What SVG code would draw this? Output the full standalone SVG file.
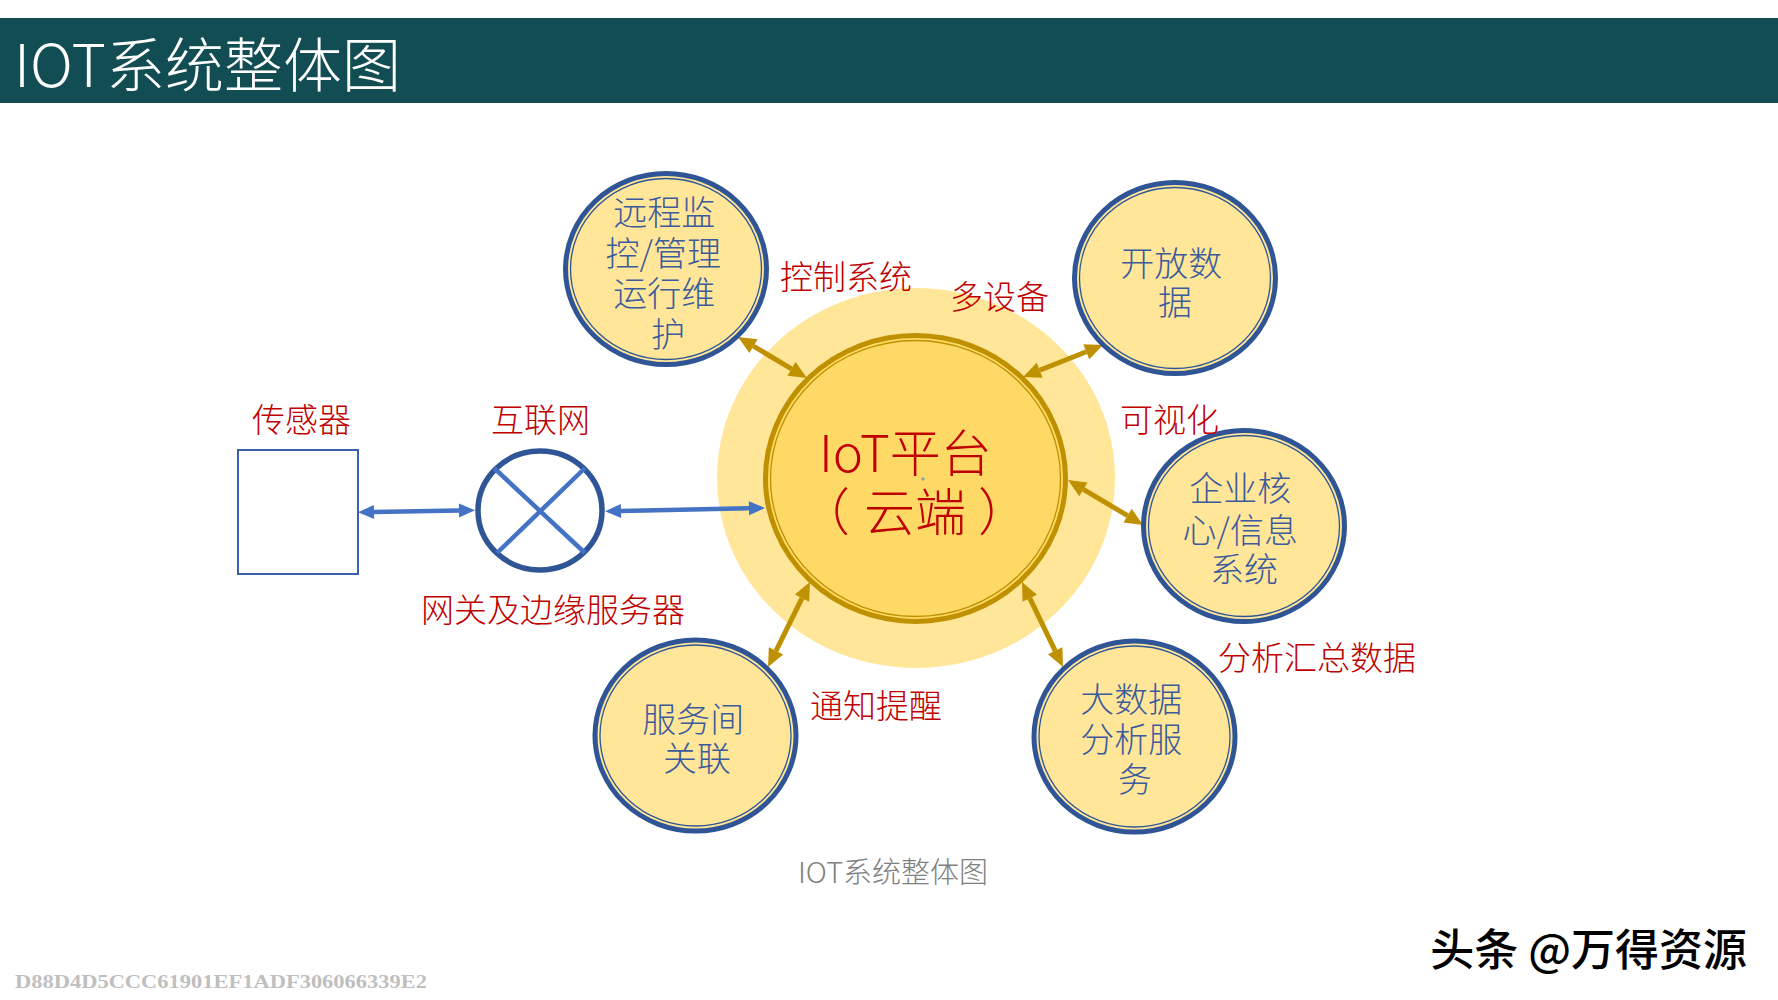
<svg xmlns="http://www.w3.org/2000/svg" width="1778" height="1000" viewBox="0 0 1778 1000">
  <style>
    .cjk { font-family: 'Noto Sans CJK SC', 'Noto Sans', sans-serif; }
    .node-text { font-family: 'Noto Sans CJK SC', 'Noto Sans', sans-serif; font-size: 34px; font-weight: 300; fill: #3B5B9C; text-anchor: middle; dominant-baseline: central; }
    .label { font-family: 'Noto Sans CJK SC', 'Noto Sans', sans-serif; font-size: 33px; font-weight: 300; fill: #C00000; dominant-baseline: central; }
    .node-fill { fill: #FFE699; stroke: #2F5597; stroke-width: 5; }
    .node-inner { fill: none; stroke: #2F5597; stroke-width: 1.3; }
    .gold-arrow { stroke: #BF9000; stroke-width: 5; fill: none; marker-start: url(#goldHead); marker-end: url(#goldHead); }
    .blue-arrow { stroke: #4472C4; stroke-width: 4.5; fill: none; marker-start: url(#blueHead); marker-end: url(#blueHead); }
  </style>
  <defs>
    <marker id="goldHead" markerUnits="userSpaceOnUse" viewBox="0 -8 18 16" markerWidth="18" markerHeight="16" refX="0" refY="0" orient="auto-start-reverse" overflow="visible">
      <path d="M0,-8 L18,0 L0,8 z" fill="#BF9000"/>
    </marker>
    <marker id="blueHead" markerUnits="userSpaceOnUse" viewBox="0 -7 16 14" markerWidth="16" markerHeight="14" refX="0" refY="0" orient="auto-start-reverse" overflow="visible">
      <path d="M0,-7 L16,0 L0,7 z" fill="#4472C4"/>
    </marker>
  </defs>

  <rect x="0" y="0" width="1778" height="1000" fill="#FFFFFF"/>

  <g id="header">
    <rect x="0" y="18" width="1778" height="85" fill="#114D52"/>
    <text x="14" y="61" class="cjk" font-size="59" font-weight="300" fill="#FFFFFF" dominant-baseline="central">IOT系统整体图</text>
  </g>

  <g id="node-iot">
    <ellipse cx="916" cy="478" rx="199" ry="190" fill="#FFE699"/>
    <ellipse cx="915.5" cy="478.5" rx="150" ry="143" fill="#FFD966" stroke="#BF9000" stroke-width="5"/>
    <ellipse cx="915.5" cy="478.5" rx="145" ry="138" fill="none" stroke="#BF9000" stroke-width="1.3"/>
    <text class="cjk" font-size="51" font-weight="300" fill="#C00000" dominant-baseline="central">
      <tspan x="911" y="450" text-anchor="middle">IoT平台</tspan>
      <tspan x="799" y="509">（</tspan><tspan x="864" y="509">云端</tspan><tspan x="978" y="509">）</tspan>
    </text>
    <circle cx="923" cy="479" r="1.8" fill="#A0A0A0"/>
  </g>

  <g id="connectors">
    <line class="gold-arrow" x1="753.5" y1="346.2" x2="791.5" y2="368.8"/>
    <line class="gold-arrow" x1="1086.3" y1="351.7" x2="1039.7" y2="370.3"/>
    <line class="gold-arrow" x1="1127.6" y1="515.7" x2="1083.4" y2="489.3"/>
    <line class="gold-arrow" x1="1055.2" y1="650.8" x2="1029.8" y2="598.2"/>
    <line class="gold-arrow" x1="776" y1="650.9" x2="802" y2="598.1"/>
    <line class="blue-arrow" x1="374" y1="512" x2="459" y2="510.5"/>
    <line class="blue-arrow" x1="621" y1="511" x2="749" y2="508.3"/>
  </g>

  <g id="node-sensor">
    <rect x="238" y="450" width="120" height="124" fill="#FFFFFF" stroke="#3A62AC" stroke-width="2"/>
    <text class="label" x="252" y="418">传感器</text>
  </g>

  <g id="node-internet">
    <ellipse cx="540" cy="510.5" rx="62" ry="59.5" fill="#FFFFFF" stroke="#2F5597" stroke-width="5.5"/>
    <line x1="494" y1="468" x2="585" y2="553" stroke="#4472C4" stroke-width="4.5"/>
    <line x1="585" y1="468" x2="497" y2="553" stroke="#4472C4" stroke-width="4.5"/>
    <text class="label" x="491" y="418">互联网</text>
    <text class="label" x="421" y="608">网关及边缘服务器</text>
  </g>

  <g id="node-remote">
    <ellipse class="node-fill" cx="666" cy="269" rx="100.5" ry="95.5"/>
    <ellipse class="node-inner" cx="666" cy="269" rx="95.5" ry="90.5"/>
    <text class="node-text">
      <tspan x="668" y="210">远程监</tspan>
      <tspan x="667" y="250.5">控/管理</tspan>
      <tspan x="668" y="291">运行维</tspan>
      <tspan x="668" y="331.5">护</tspan>
    </text>
  </g>

  <g id="node-opendata">
    <ellipse class="node-fill" cx="1175" cy="278" rx="100.5" ry="95.5"/>
    <ellipse class="node-inner" cx="1175" cy="278" rx="95.5" ry="90.5"/>
    <text class="node-text">
      <tspan x="1175" y="261">开放数</tspan>
      <tspan x="1175" y="300">据</tspan>
    </text>
  </g>

  <g id="node-enterprise">
    <ellipse class="node-fill" cx="1244" cy="526" rx="100.5" ry="95.5"/>
    <ellipse class="node-inner" cx="1244" cy="526" rx="95.5" ry="90.5"/>
    <text class="node-text">
      <tspan x="1244" y="486">企业核</tspan>
      <tspan x="1244" y="528">心/信息</tspan>
      <tspan x="1244" y="567">系统</tspan>
    </text>
  </g>

  <g id="node-bigdata">
    <ellipse class="node-fill" cx="1134.5" cy="736.5" rx="100.5" ry="95.5"/>
    <ellipse class="node-inner" cx="1134.5" cy="736.5" rx="95.5" ry="90.5"/>
    <text class="node-text">
      <tspan x="1135" y="697">大数据</tspan>
      <tspan x="1135" y="737">分析服</tspan>
      <tspan x="1135" y="777">务</tspan>
    </text>
  </g>

  <g id="node-service">
    <ellipse class="node-fill" cx="695.5" cy="735.5" rx="100.5" ry="95.5"/>
    <ellipse class="node-inner" cx="695.5" cy="735.5" rx="95.5" ry="90.5"/>
    <text class="node-text">
      <tspan x="697" y="717">服务间</tspan>
      <tspan x="697" y="756">关联</tspan>
    </text>
  </g>

  <g id="labels">
    <text class="label" x="780" y="275">控制系统</text>
    <text class="label" x="950" y="295">多设备</text>
    <text class="label" x="1120" y="418">可视化</text>
    <text class="label" x="1218" y="656">分析汇总数据</text>
    <text class="label" x="810" y="704">通知提醒</text>
  </g>

  <g id="footer">
    <text x="893" y="870" class="cjk" font-size="29" font-weight="300" fill="#808080" text-anchor="middle" dominant-baseline="central">IOT系统整体图</text>
    <text x="1747" y="947" class="cjk" font-size="44" font-weight="500" fill="#000000" text-anchor="end" dominant-baseline="central">头条 @万得资源</text>
    <text x="15" y="988" font-family="'Liberation Serif', serif" font-size="19" font-weight="bold" fill="#BFBFBF" textLength="412" lengthAdjust="spacingAndGlyphs">D88D4D5CCC61901EF1ADF306066339E2</text>
  </g>
</svg>
